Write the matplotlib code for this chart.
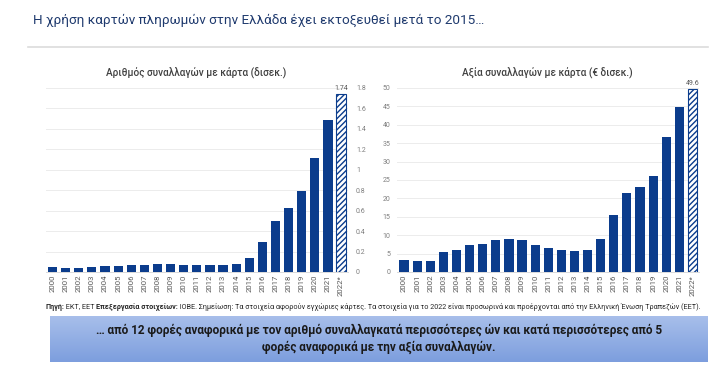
import matplotlib
matplotlib.use("Agg")
import matplotlib.pyplot as plt
import numpy as np

plt.rcParams['font.family'] = ['Roboto', 'DejaVu Sans']
plt.rcParams['hatch.linewidth'] = 1.0

# data
years = ['2000', '2001', '2002', '2003', '2004', '2005', '2006', '2007', '2008', '2009', '2010',
         '2011', '2012', '2013', '2014', '2015', '2016', '2017', '2018', '2019', '2020', '2021', '2022*']
count_bn = [0.046, 0.043, 0.040, 0.052, 0.059, 0.062, 0.066, 0.072, 0.082, 0.079, 0.072,
            0.069, 0.066, 0.072, 0.082, 0.141, 0.298, 0.502, 0.630, 0.793, 1.12, 1.49, 1.74]
value_bn = [3.2, 2.9, 3.1, 5.3, 6.0, 7.3, 7.5, 8.6, 9.1, 8.6, 7.3,
            6.4, 5.9, 5.8, 6.1, 8.9, 15.5, 21.6, 23.2, 26.2, 36.8, 44.8, 49.6]
count_ticks = [0, 0.2, 0.4, 0.6, 0.8, 1, 1.2, 1.4, 1.6, 1.8]
count_tick_labels = ['0', '0.2', '0.4', '0.6', '0.8', '1', '1.2', '1.4', '1.6', '1.8']
value_ticks = [0, 5, 10, 15, 20, 25, 30, 35, 40, 45, 50]

navy = '#0b3c8c'
W, H = 728, 365

fig = plt.figure(figsize=(W / 100, H / 100), dpi=100)
fig.patch.set_facecolor('white')

def fx(px):
    return px / W

def fy(py):
    return 1 - py / H

# headline
fig.text(fx(33), fy(20), 'Η χρήση καρτών πληρωμών στην Ελλάδα έχει εκτοξευθεί μετά το 2015…',
         fontsize=9.7, color='#1f3a6e', va='center', ha='left')
fig.add_artist(plt.Line2D([fx(28), fx(708)], [fy(47), fy(47)], color='#dcdcdc', lw=1.2))

def draw_panel(ax, vals, ticks, labels, top, lab_fmt):
    x = np.arange(len(years))
    ax.bar(x[:-1], vals[:-1], width=0.7, color=navy, zorder=2)
    ax.bar(x[-1:], vals[-1:], width=0.7, color='white', edgecolor=navy,
           hatch='//////', lw=0.8, zorder=2)
    ax.text(x[-1], vals[-1] + top * 0.012, lab_fmt.format(vals[-1]), ha='center', va='bottom',
            fontsize=5, color='#595959', clip_on=False)
    ax.set_xlim(-0.5, len(years) - 0.5)
    ax.set_ylim(0, top)
    ax.set_xticks(x)
    ax.set_xticklabels(years, rotation=90, fontsize=5.6, color='#595959')
    ax.set_yticks(ticks)
    ax.set_yticklabels(labels, fontsize=5, color='#7f7f7f')
    ax.yaxis.grid(True, color='#ececec', lw=0.7, zorder=0)
    ax.tick_params(length=0, pad=2)
    for s in ax.spines.values():
        s.set_visible(False)
    ax.spines['bottom'].set_visible(True)
    ax.spines['bottom'].set_color('#d9d9d9')
    ax.spines['bottom'].set_linewidth(0.7)

axL = fig.add_axes([fx(46), fy(272), fx(347.6) - fx(46), fy(88) - fy(272)])
draw_panel(axL, count_bn, count_ticks, count_tick_labels, 1.8, '{:.2f}')
axL.yaxis.tick_right()
axL.tick_params(axis='y', pad=6)

axR = fig.add_axes([fx(397.5), fy(272), fx(699) - fx(397.5), fy(88) - fy(272)])
draw_panel(axR, value_bn, value_ticks, [str(v) for v in value_ticks], 50, '{:.1f}')
axR.tick_params(axis='y', pad=5)

fig.text(fx(196), fy(73), 'Αριθμός συναλλαγών με κάρτα (δισεκ.)', fontsize=7.2, color='#404040',
         ha='center', va='center', fontweight='medium')
fig.text(fx(547), fy(73), 'Αξία συναλλαγών με κάρτα (€ δισεκ.)', fontsize=7.2, color='#404040',
         ha='center', va='center', fontweight='medium')

# source line, built from bold and regular pieces
pieces = [('Πηγή:', 'bold'), (' ΕΚΤ, ΕΕΤ ', 'normal'), ('Επεξεργασία στοιχείων:', 'bold'),
          (' ΙΟΒΕ. Σημείωση: Τα στοιχεία αφορούν εγχώριες κάρτες. Τα στοιχεία για το 2022 είναι '
           'προσωρινά και προέρχονται από την Ελληνική Ένωση Τραπεζών (ΕΕΤ).', 'normal')]
renderer = fig.canvas.get_renderer()
xpos = fx(45)
for txt, wt in pieces:
    t = fig.text(xpos, fy(307), txt, fontsize=5.2, color='#262626', ha='left', va='center',
                 fontweight=wt)
    bb = t.get_window_extent(renderer)
    xpos += bb.width / W

# gradient box
box_ax = fig.add_axes([fx(50), fy(362), fx(708) - fx(50), fy(316) - fy(362)])
grad = np.linspace(0, 1, 64).reshape(-1, 1)
top_c = np.array([0.66, 0.75, 0.92])
bot_c = np.array([0.49, 0.62, 0.87])
img = top_c[None, None, :] * (1 - grad[:, :, None]) + bot_c[None, None, :] * grad[:, :, None]
box_ax.imshow(img, aspect='auto', extent=[0, 1, 0, 1])
box_ax.set_axis_off()
box_ax.text(0.5, 0.5, '… από 12 φορές αναφορικά με τον αριθμό συναλλαγκατά περισσότερες ών και κατά περισσότερες από 5\n'
            'φορές αναφορικά με την αξία συναλλαγών.', fontsize=8.5, fontweight='bold',
            color='#1a1a1a', ha='center', va='center', linespacing=1.35, transform=box_ax.transAxes)

fig.savefig('out.png', dpi=100, facecolor='white')
